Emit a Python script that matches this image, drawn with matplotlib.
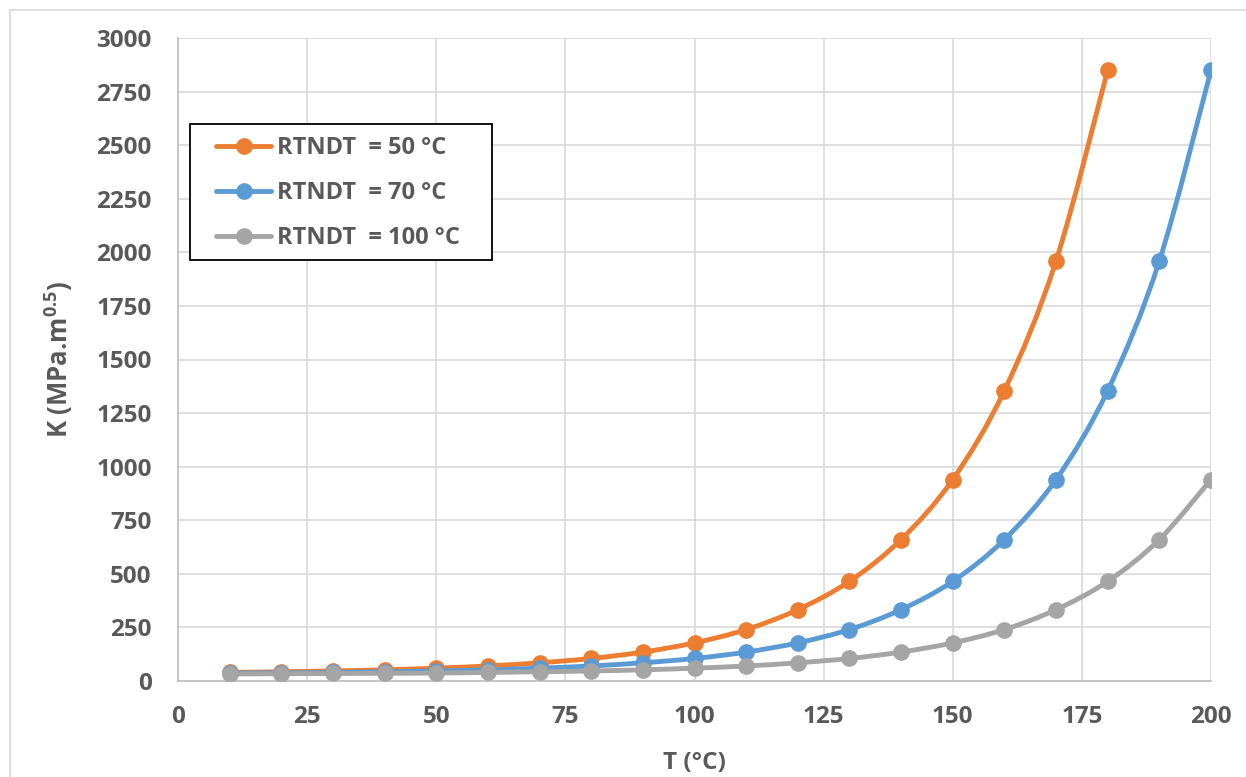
import numpy as np
import matplotlib
matplotlib.use("Agg")
import matplotlib.pyplot as plt
from matplotlib.path import Path
from matplotlib.patches import PathPatch, Rectangle
from matplotlib.lines import Line2D

# ── DATA ─────────────────────────────────────────────────────────────────────
temps = [10, 20, 30, 40, 50, 60, 70, 80, 90, 100,
         110, 120, 130, 140, 150, 160, 170, 180, 190, 200]

k_rt50 = [40, 43, 47, 52, 60, 70, 85, 105, 135, 178,
          240, 333, 465, 660, 940, 1355, 1960, 2850]
k_rt70 = [37, 38, 40, 43, 47, 52, 60, 70, 85, 105,
          135, 178, 240, 333, 465, 660, 940, 1355, 1960, 2850]
k_rt100 = [33, 34, 35, 36, 37, 40, 43, 47, 52, 60,
           70, 85, 105, 135, 178, 240, 333, 465, 660, 940]

labels = ["RTNDT  = 50 °C", "RTNDT  = 70 °C", "RTNDT  = 100 °C"]
colors = ["#ED7D31", "#5B9BD5", "#A5A5A5"]

TXT = "#595959"
W, H = 1246, 777
plt.rcParams["font.family"] = ["Open Sans", "DejaVu Sans"]
plt.rcParams["font.weight"] = "bold"
plt.rcParams["mathtext.fontset"] = "custom"
plt.rcParams["mathtext.bf"] = "Open Sans:bold"
plt.rcParams["mathtext.rm"] = "Open Sans:bold"


def smooth_path(x, y):
    # Excel-style smoothed line: cubic bezier through the points
    x = np.asarray(x, float)
    y = np.asarray(y, float)
    verts = [(x[0], y[0])]
    codes = [Path.MOVETO]
    n = len(x)
    for i in range(n - 1):
        x0, y0 = (x[i - 1], y[i - 1]) if i > 0 else (x[i], y[i])
        x3, y3 = (x[i + 2], y[i + 2]) if i + 2 < n else (x[i + 1], y[i + 1])
        c1 = (x[i] + (x[i + 1] - x0) / 6, y[i] + (y[i + 1] - y0) / 6)
        c2 = (x[i + 1] - (x3 - x[i]) / 6, y[i + 1] - (y3 - y[i]) / 6)
        verts += [c1, c2, (x[i + 1], y[i + 1])]
        codes += [Path.CURVE4] * 3
    return Path(verts, codes)


fig = plt.figure(figsize=(W / 100, H / 100), dpi=100)
ax = fig.add_axes([178 / W, 96 / H, 1033 / W, 643 / H])

# outer chart frame
fig.patches.append(Rectangle((10 / W, -0.1), 1.2, (H - 10) / H + 0.1,
                             transform=fig.transFigure, fill=False,
                             edgecolor="#D9D9D9", linewidth=1.2))

series = [k_rt50, k_rt70, k_rt100]
handles = []
for vals, col, lab in zip(series, colors, labels):
    xs = temps[:len(vals)]
    ax.add_patch(PathPatch(smooth_path(xs, vals), fill=False, edgecolor=col,
                           linewidth=3.5, capstyle="round", zorder=3))
    ax.plot(xs, vals, "o", color=col, markersize=11, zorder=4)
    handles.append(Line2D([], [], color=col, linewidth=3.5, marker="o",
                          markersize=11, solid_capstyle="round"))

ax.set_xlim(0, 200)
ax.set_ylim(0, 3000)
ax.set_xticks(range(0, 201, 25))
ax.set_yticks(range(0, 3001, 250))
ax.grid(True, color="#D9D9D9", linewidth=1.2)
ax.set_axisbelow(True)
for s in ["top", "right"]:
    ax.spines[s].set_visible(False)
for s in ["bottom", "left"]:
    ax.spines[s].set_color("#BFBFBF")
    ax.spines[s].set_linewidth(1.2)
ax.tick_params(length=0, labelsize=17.5, labelcolor=TXT)
ax.tick_params(axis="y", pad=19)
ax.tick_params(axis="x", pad=17)
for t in ax.get_xticklabels() + ax.get_yticklabels():
    t.set_fontweight("bold")

ax.set_xlabel("T (°C)", fontsize=17.5, color=TXT, labelpad=16,
              fontweight="bold")
ax.set_ylabel(r"K (MPa.m$^{\mathbf{0.5}}$)", fontsize=18.5, color=TXT,
              labelpad=15, fontweight="bold")

# legend box drawn by hand, entries placed inside it
box = (190, 124, 492, 260)  # left, top, right, bottom in pixels
fig.patches.append(Rectangle((box[0] / W, 1 - box[3] / H),
                             (box[2] - box[0]) / W, (box[3] - box[1]) / H,
                             transform=fig.transFigure, facecolor="white",
                             edgecolor="black", linewidth=1.3, zorder=5))
leg = fig.legend(handles, labels, loc="upper left",
                 bbox_to_anchor=(216 / W, 1 - 136 / H),
                 frameon=False, handlelength=2.35, handletextpad=0.25,
                 labelspacing=0.9, borderpad=0, borderaxespad=0,
                 prop={"weight": "bold", "size": 17})
leg.set_zorder(6)
for t in leg.get_texts():
    t.set_color(TXT)

fig.savefig("out.png", dpi=100)
